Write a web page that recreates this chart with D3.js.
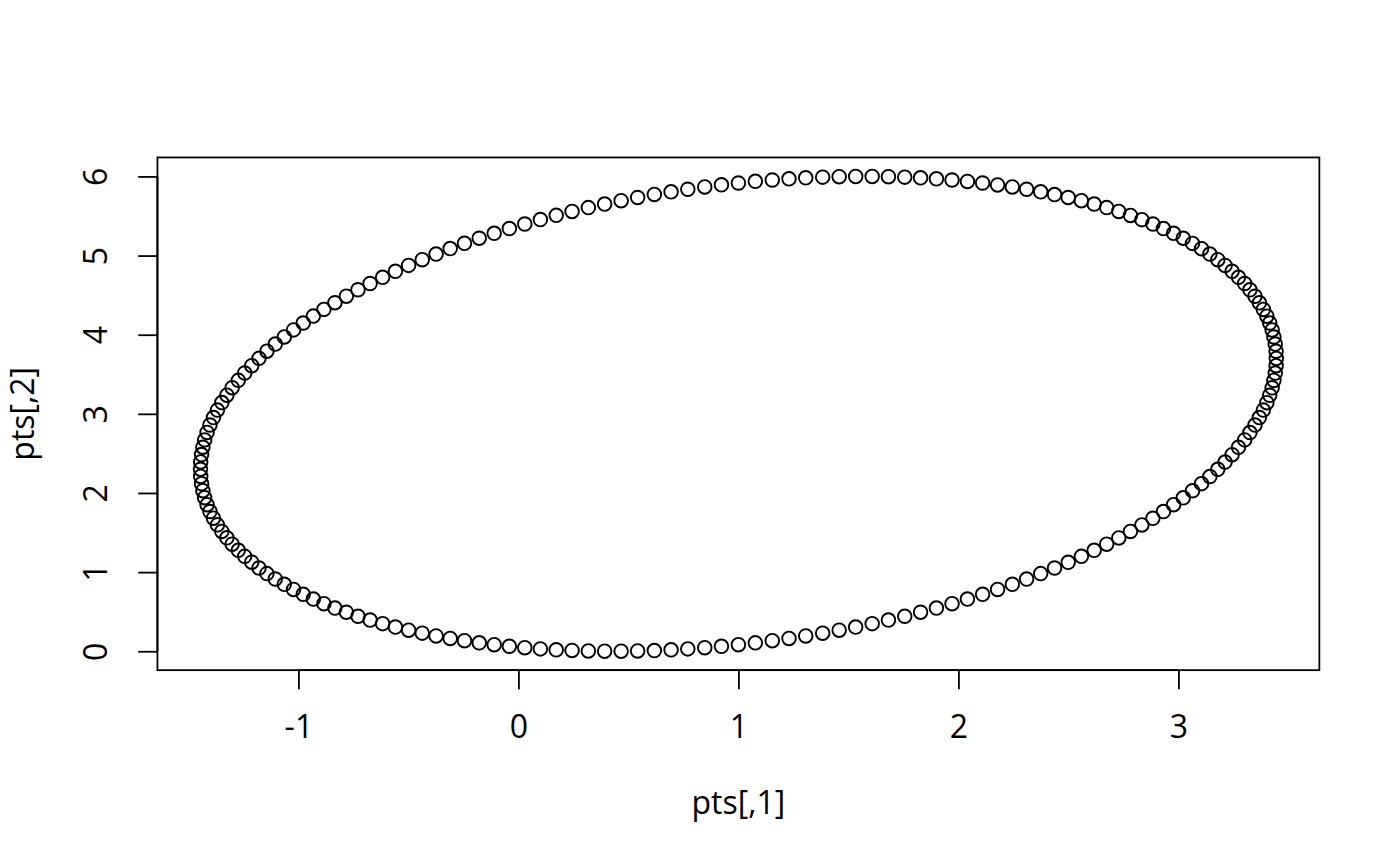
<!DOCTYPE html>
<html>
<head>
<meta charset="utf-8">
<script src="https://cdn.jsdelivr.net/npm/d3@7"></script>
<style>
  html, body { margin: 0; padding: 0; background: #ffffff; }
  svg { display: block; }
  text { font-family: "Open Sans", "Noto Sans", sans-serif; fill: #000; }
</style>
</head>
<body>
<svg id="chart" width="1400" height="866"></svg>
<script>
// Points (pts[,1], pts[,2])
const ptsX = [
  3.445, 3.444, 3.440, 3.434, 3.426, 3.415, 3.402, 3.386, 3.368, 3.348,
  3.325, 3.301, 3.273, 3.244, 3.212, 3.179, 3.143, 3.105, 3.064, 3.022,
  2.978, 2.932, 2.884, 2.834, 2.782, 2.729, 2.674, 2.617, 2.559, 2.499,
  2.437, 2.374, 2.310, 2.245, 2.178, 2.110, 2.041, 1.971, 1.900, 1.828,
  1.756, 1.682, 1.608, 1.533, 1.458, 1.383, 1.306, 1.230, 1.154, 1.077,
  1.000, 0.923, 0.847, 0.770, 0.694, 0.618, 0.542, 0.467, 0.392, 0.318,
  0.244, 0.172, 0.100, 0.029, -0.041, -0.110, -0.178, -0.245, -0.310, -0.374,
  -0.437, -0.499, -0.559, -0.617, -0.674, -0.729, -0.782, -0.834, -0.884, -0.932,
  -0.978, -1.022, -1.064, -1.105, -1.143, -1.179, -1.212, -1.244, -1.273, -1.301,
  -1.325, -1.348, -1.368, -1.386, -1.402, -1.415, -1.426, -1.434, -1.440, -1.444,
  -1.445, -1.444, -1.440, -1.434, -1.426, -1.415, -1.402, -1.386, -1.368, -1.348,
  -1.325, -1.301, -1.273, -1.244, -1.212, -1.179, -1.143, -1.105, -1.064, -1.022,
  -0.978, -0.932, -0.884, -0.834, -0.782, -0.729, -0.674, -0.617, -0.559, -0.499,
  -0.437, -0.374, -0.310, -0.245, -0.178, -0.110, -0.041, 0.029, 0.100, 0.172,
  0.244, 0.318, 0.392, 0.467, 0.542, 0.618, 0.694, 0.770, 0.847, 0.923,
  1.000, 1.077, 1.154, 1.230, 1.306, 1.383, 1.458, 1.533, 1.608, 1.682,
  1.756, 1.828, 1.900, 1.971, 2.041, 2.110, 2.178, 2.245, 2.310, 2.374,
  2.437, 2.499, 2.559, 2.617, 2.674, 2.729, 2.782, 2.834, 2.884, 2.932,
  2.978, 3.022, 3.064, 3.105, 3.143, 3.179, 3.212, 3.244, 3.273, 3.301,
  3.325, 3.348, 3.368, 3.386, 3.402, 3.415, 3.426, 3.434, 3.440, 3.444
];
const ptsY = [
  3.700, 3.791, 3.882, 3.971, 4.060, 4.148, 4.234, 4.319, 4.403, 4.486,
  4.567, 4.647, 4.725, 4.801, 4.875, 4.948, 5.019, 5.087, 5.154, 5.219,
  5.281, 5.341, 5.399, 5.454, 5.507, 5.558, 5.606, 5.651, 5.694, 5.734,
  5.771, 5.806, 5.838, 5.867, 5.893, 5.917, 5.937, 5.955, 5.970, 5.982,
  5.991, 5.997, 6.000, 6.000, 5.997, 5.991, 5.982, 5.970, 5.955, 5.938,
  5.917, 5.894, 5.867, 5.838, 5.806, 5.772, 5.734, 5.694, 5.651, 5.606,
  5.558, 5.508, 5.455, 5.399, 5.341, 5.281, 5.219, 5.155, 5.088, 5.019,
  4.948, 4.876, 4.801, 4.725, 4.647, 4.568, 4.487, 4.404, 4.320, 4.235,
  4.148, 4.061, 3.972, 3.882, 3.792, 3.701, 3.609, 3.516, 3.423, 3.330,
  3.236, 3.142, 3.047, 2.953, 2.859, 2.765, 2.671, 2.578, 2.485, 2.392,
  2.300, 2.209, 2.118, 2.029, 1.940, 1.852, 1.766, 1.681, 1.597, 1.514,
  1.433, 1.353, 1.275, 1.199, 1.125, 1.052, 0.981, 0.913, 0.846, 0.781,
  0.719, 0.659, 0.601, 0.546, 0.493, 0.442, 0.394, 0.349, 0.306, 0.266,
  0.229, 0.194, 0.162, 0.133, 0.107, 0.083, 0.063, 0.045, 0.030, 0.018,
  0.010, 0.004, 0.001, 0.001, 0.004, 0.009, 0.018, 0.030, 0.045, 0.062,
  0.083, 0.106, 0.133, 0.162, 0.194, 0.228, 0.266, 0.306, 0.349, 0.394,
  0.442, 0.493, 0.546, 0.601, 0.659, 0.719, 0.781, 0.846, 0.912, 0.981,
  1.052, 1.124, 1.199, 1.275, 1.353, 1.432, 1.514, 1.596, 1.680, 1.765,
  1.852, 1.939, 2.028, 2.118, 2.208, 2.299, 2.391, 2.484, 2.577, 2.671,
  2.764, 2.858, 2.953, 3.047, 3.141, 3.235, 3.329, 3.422, 3.515, 3.608
];
const xTicks = [-1, 0, 1, 2, 3];
const yTicks = [0, 1, 2, 3, 4, 5, 6];
const xTickLabels = ["-1", "0", "1", "2", "3"];
const yTickLabels = ["0", "1", "2", "3", "4", "5", "6"];
const xLabel = "pts[,1]";
const yLabel = "pts[,2]";

const W = 1400, H = 866;
const lineH = 38.4; // one margin line in px
const margin = { top: 4.1 * lineH, right: 2.1 * lineH, bottom: 5.1 * lineH, left: 4.1 * lineH };
const x0 = margin.left, x1 = W - margin.right;
const y0 = margin.top, y1 = H - margin.bottom;

const svg = d3.select("#chart");
svg.append("rect").attr("width", W).attr("height", H).attr("fill", "#fff");

// R-style 4% padded extents
function padded(vals) {
  const [lo, hi] = d3.extent(vals);
  const p = (hi - lo) * 0.04;
  return [lo - p, hi + p];
}
const x = d3.scaleLinear().domain(padded(ptsX)).range([x0, x1]);
const y = d3.scaleLinear().domain(padded(ptsY)).range([y1, y0]);

const fontSize = 32;
const tickLen = 0.5 * lineH;

// X axis
const xAxis = d3.axisBottom(x).tickValues(xTicks).tickSize(tickLen).tickPadding(0)
  .tickFormat((d, i) => xTickLabels[i]);
const gx = svg.append("g").attr("transform", `translate(0,${y1})`).call(xAxis);
gx.select(".domain").attr("d", `M${x(xTicks[0])},0H${x(xTicks[xTicks.length - 1])}`)
  .attr("stroke", "#000").attr("stroke-width", 1.8);
gx.selectAll(".tick line").attr("stroke", "#000").attr("stroke-width", 1.8);
gx.selectAll(".tick text")
  .attr("y", 68).attr("dy", null)
  .attr("font-size", fontSize)
  .attr("font-family", "'Open Sans', 'Noto Sans', sans-serif")
  .attr("fill", "#000");

// Y axis
const yAxis = d3.axisLeft(y).tickValues(yTicks).tickSize(tickLen).tickPadding(0)
  .tickFormat((d, i) => yTickLabels[i]);
const gy = svg.append("g").attr("transform", `translate(${x0},0)`).call(yAxis);
gy.select(".domain").attr("d", `M0,${y(yTicks[0])}V${y(yTicks[yTicks.length - 1])}`)
  .attr("stroke", "#000").attr("stroke-width", 1.8);
gy.selectAll(".tick line").attr("stroke", "#000").attr("stroke-width", 1.8);
gy.selectAll(".tick text")
  .attr("x", null).attr("y", null).attr("dy", null)
  .attr("transform", "translate(-50,0) rotate(-90)")
  .attr("text-anchor", "middle")
  .attr("font-size", fontSize)
  .attr("font-family", "'Open Sans', 'Noto Sans', sans-serif")
  .attr("fill", "#000");

// Box
svg.append("rect")
  .attr("x", x0).attr("y", y0).attr("width", x1 - x0).attr("height", y1 - y0)
  .attr("fill", "none").attr("stroke", "#000").attr("stroke-width", 1.8);

// Points
const pts = ptsX.map((v, i) => [v, ptsY[i]]);
svg.append("g").selectAll("circle").data(pts).join("circle")
  .attr("cx", d => x(d[0])).attr("cy", d => y(d[1]))
  .attr("r", 6.8)
  .attr("fill", "none").attr("stroke", "#000").attr("stroke-width", 1.9);

// Axis titles
svg.append("text")
  .attr("x", (x0 + x1) / 2).attr("y", y1 + 144)
  .attr("text-anchor", "middle").attr("font-size", fontSize)
  .text(xLabel);
svg.append("text")
  .attr("transform", `translate(${x0 - 123},${(y0 + y1) / 2}) rotate(-90)`)
  .attr("text-anchor", "middle").attr("font-size", fontSize)
  .text(yLabel);
</script>
</body>
</html>
